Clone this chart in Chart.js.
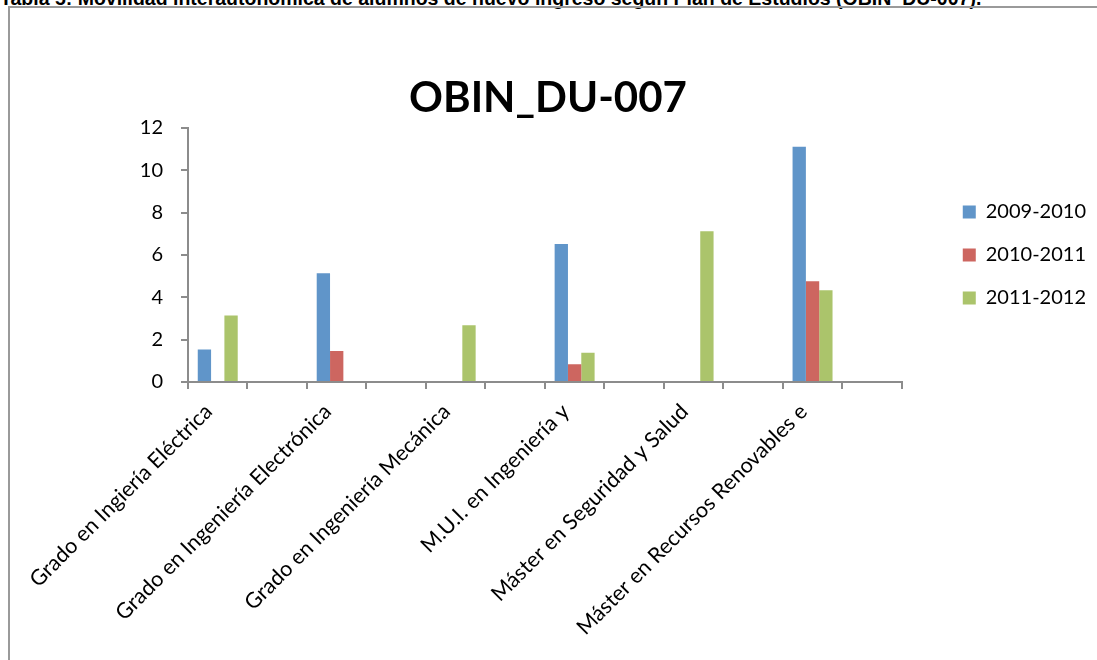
<!DOCTYPE html>
<html>
<head>
<meta charset="utf-8">
<script src="https://cdn.jsdelivr.net/npm/chart.js@4.4.0/dist/chart.umd.min.js"></script>
<style>
    html, body { margin: 0; padding: 0; background: #fff; overflow: hidden; }
    #page { position: relative; width: 1097px; height: 660px; overflow: hidden; }
    #caption {
        position: absolute; left: 0; top: -12px; white-space: nowrap;
        font: bold 19.5px 'Liberation Sans', Arial, sans-serif; line-height: 20px; color: #000;
    }
    #frame {
        position: absolute; left: 8px; top: 6px; width: 1200px; height: 800px;
        border-left: 2px solid #9a9a9a; border-top: 2px solid #9a9a9a;
    }
    #chart-wrap { position: absolute; left: 0; top: 0; width: 1097px; height: 660px; }
</style>
</head>
<body>
<div id="page">
    <div id="caption">Tabla 5: Movilidad interautonómica de alumnos de nuevo ingreso según Plan de Estudios (OBIN_DU-007).</div>
    <div id="frame"></div>
    <div id="chart-wrap"><canvas id="chart" width="1097" height="660"></canvas></div>
</div>
<script>
// categories (every other slot is an unlabeled gap, as in the source chart)
const categories = [
    'Grado en Ingiería Eléctrica', '',
    'Grado en Ingeniería Electrónica', '',
    'Grado en Ingeniería Mecánica', '',
    'M.U.I. en Ingeniería y', '',
    'Máster en Seguridad y Salud', '',
    'Máster en Recursos Renovables e', ''
];
const seriesNames = ['2009-2010', '2010-2011', '2011-2012'];
const values0910 = [1.54, null, 5.14, null, null, null, 6.52, null, null, null, 11.11, null];
const values1011 = [null, null, 1.46, null, null, null, 0.84, null, null, null, 4.76, null];
const values1112 = [3.14, null, null, null, 2.68, null, 1.38, null, 7.12, null, 4.34, null];
const yTicks = [0, 2, 4, 6, 8, 10, 12];

const colors = ['#6095c9', '#cd6660', '#abc46b'];
const axisColor = '#8c8c8c';
const tickFont = { family: 'Lato', size: 20 };

const datasets = [values0910, values1011, values1112].map((vals, i) => ({
    label: seriesNames[i],
    data: vals,
    backgroundColor: colors[i],
    borderWidth: 0,
    categoryPercentage: 0.672,
    barPercentage: 1.0
}));

new Chart(document.getElementById('chart'), {
    type: 'bar',
    data: { labels: categories, datasets },
    options: {
        responsive: false,
        animation: false,
        layout: { padding: { left: 0, right: 1, top: 0, bottom: 0 } },
        plugins: {
            title: {
                display: true,
                text: 'OBIN_DU-007',
                color: '#000',
                font: { family: 'Lato', size: 42, weight: 'bold', lineHeight: 1.2 },
                padding: { top: 73, bottom: 4.6 }
            },
            legend: {
                position: 'right',
                fullSize: false,
                labels: {
                    boxWidth: 13, boxHeight: 13, padding: 23,
                    color: '#000', font: tickFont
                }
            },
            tooltip: { enabled: false }
        },
        scales: {
            x: {
                grid: { display: true, drawOnChartArea: false, drawTicks: true, tickLength: 7, color: axisColor, lineWidth: 2, offset: true },
                border: { display: true, color: axisColor, width: 2 },
                ticks: {
                    color: '#000', font: { family: 'Lato', size: 21.5 },
                    minRotation: 45, maxRotation: 45, autoSkip: false,
                    padding: 10, labelOffset: -9
                },
                afterFit: s => { s.height = 278; }
            },
            y: {
                min: 0, max: 12,
                afterBuildTicks: s => { s.ticks = yTicks.map(v => ({ value: v })); },
                grid: { display: true, drawOnChartArea: false, drawTicks: true, tickLength: 7, color: axisColor, lineWidth: 2 },
                border: { display: true, color: axisColor, width: 2 },
                ticks: { color: '#000', font: tickFont, padding: 18 },
                afterFit: s => { s.width = 188; }
            },
            // empty spacer between plot and legend
            gap: {
                type: 'linear', position: 'right', display: true,
                grid: { display: false }, border: { display: false }, ticks: { display: false },
                afterFit: s => { s.width = 38; }
            }
        }
    }
});
</script>
</body>
</html>
